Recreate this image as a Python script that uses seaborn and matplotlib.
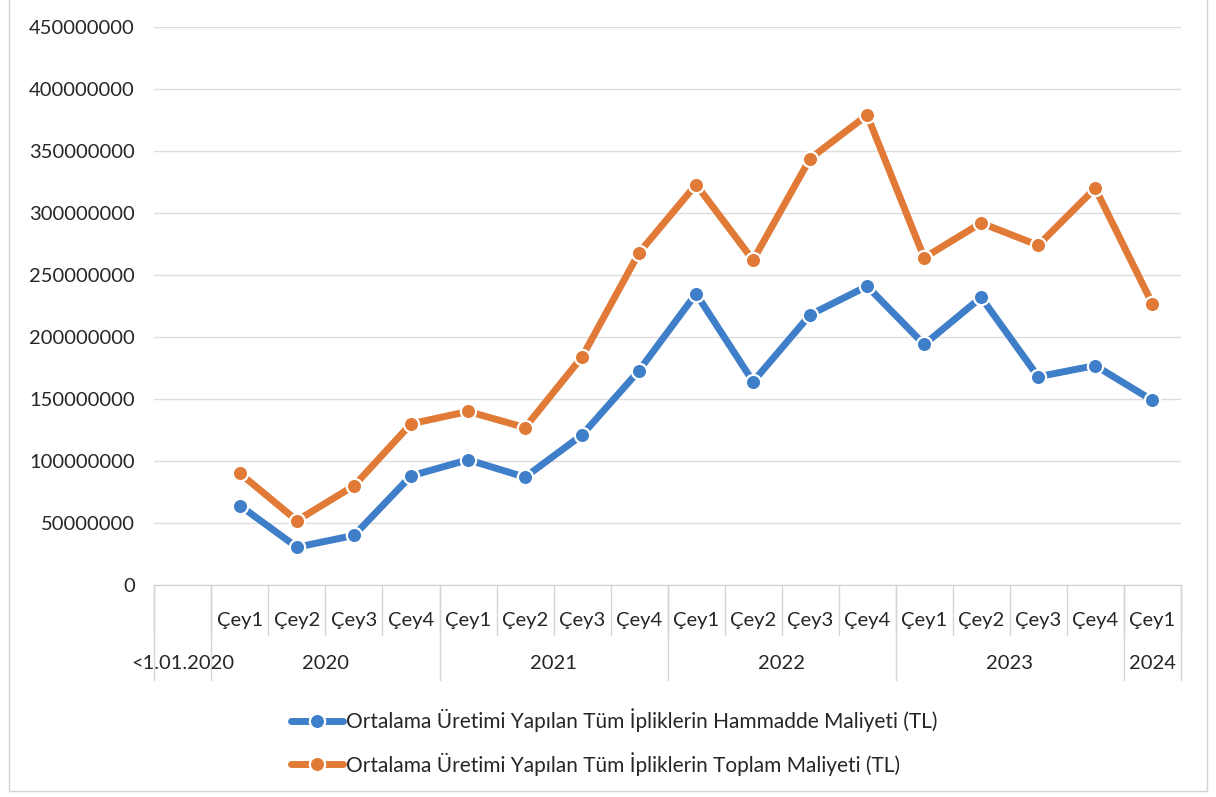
import numpy as np
import pandas as pd
import matplotlib
matplotlib.use('Agg')
import matplotlib.pyplot as plt
from matplotlib.patches import Rectangle
from matplotlib.ticker import FuncFormatter
import seaborn as sns

# veri (TL)
ceyrekler = ['', 'Çey1', 'Çey2', 'Çey3', 'Çey4',
             'Çey1', 'Çey2', 'Çey3', 'Çey4',
             'Çey1', 'Çey2', 'Çey3', 'Çey4',
             'Çey1', 'Çey2', 'Çey3', 'Çey4',
             'Çey1']
yillar = ['<1.01.2020', '2020', '2021', '2022', '2023', '2024']
yil_uzunluk = [1, 4, 4, 4, 4, 1]

hammadde = [np.nan, 64e6, 30.5e6, 40e6, 88e6,
            101e6, 87e6, 121e6, 173e6,
            235e6, 164e6, 218e6, 241e6,
            194e6, 232e6, 168e6, 177e6,
            149e6]
toplam = [np.nan, 90e6, 52e6, 80e6, 130e6,
          140e6, 127e6, 184e6, 268e6,
          323e6, 262e6, 344e6, 379e6,
          264e6, 292e6, 274e6, 320e6,
          227e6]

seri_adlari = ['Ortalama Üretimi Yapılan Tüm İpliklerin Hammadde Maliyeti (TL)',
               'Ortalama Üretimi Yapılan Tüm İpliklerin Toplam Maliyeti (TL)']
renkler = ['#3f7fc9', '#e07a36']

sns.set_style('white')
plt.rcParams['font.family'] = ['Lato', 'DejaVu Sans']

df = pd.DataFrame({'pos': np.arange(len(ceyrekler)),
                   'hammadde': hammadde, 'toplam': toplam})

fig = plt.figure(figsize=(12.16, 7.97), dpi=100)
ax = fig.add_axes([0.127, 0.266, 0.844, 0.700])

for col, ad, renk in zip(['hammadde', 'toplam'], seri_adlari, renkler):
    sns.lineplot(data=df, x='pos', y=col, color=renk, label=ad, ax=ax,
                 marker='o', markersize=11, markeredgecolor='white',
                 markeredgewidth=1.6, linewidth=5)

ax.set_xlim(-0.5, len(ceyrekler) - 0.5)
ax.set_ylim(0, 450e6)
ax.set_yticks(np.arange(0, 450e6 + 1, 50e6))
ax.yaxis.set_major_formatter(FuncFormatter(lambda v, p: f'{int(v)}'))
ax.tick_params(axis='y', length=0, pad=14, labelsize=14.5, colors='#262626')
ax.set_xticks([])
ax.set_xlabel('')
ax.set_ylabel('')
ax.yaxis.grid(True, color='#dcdcdc', linewidth=1)
for s in ['top', 'right', 'left']:
    ax.spines[s].set_visible(False)
ax.spines['bottom'].set_color('#cfcfcf')

# çok seviyeli kategori ekseni
tr = ax.get_xaxis_transform()
cizgi = dict(color='#d6d6d6', linewidth=1, transform=tr, clip_on=False)
for i, q in enumerate(ceyrekler):
    ax.text(i, -0.063, q, transform=tr, ha='center', va='center',
            fontsize=14.5, color='#262626')
for i in range(len(ceyrekler) + 1):
    ax.plot([i - 0.5, i - 0.5], [0, -0.09], **cizgi)

bas = 0
for yil, n in zip(yillar, yil_uzunluk):
    ax.text(bas + n / 2 - 0.5, -0.141, yil, transform=tr, ha='center',
            va='center', fontsize=14.5, color='#262626')
    ax.plot([bas - 0.5, bas - 0.5], [0, -0.17], **cizgi)
    bas += n
ax.plot([bas - 0.5, bas - 0.5], [0, -0.17], **cizgi)

leg = ax.legend(loc='upper center', bbox_to_anchor=(0.448, -0.187),
                frameon=False, fontsize=15, handlelength=2.5,
                labelspacing=0.95, handletextpad=0.1)
for t in leg.get_texts():
    t.set_color('#262626')

fig.patches.append(Rectangle((0.007, 0.008), 0.986, 1.05, transform=fig.transFigure,
                             fill=False, edgecolor='#d4d4d4', linewidth=1))

fig.savefig('out.png', dpi=100)
